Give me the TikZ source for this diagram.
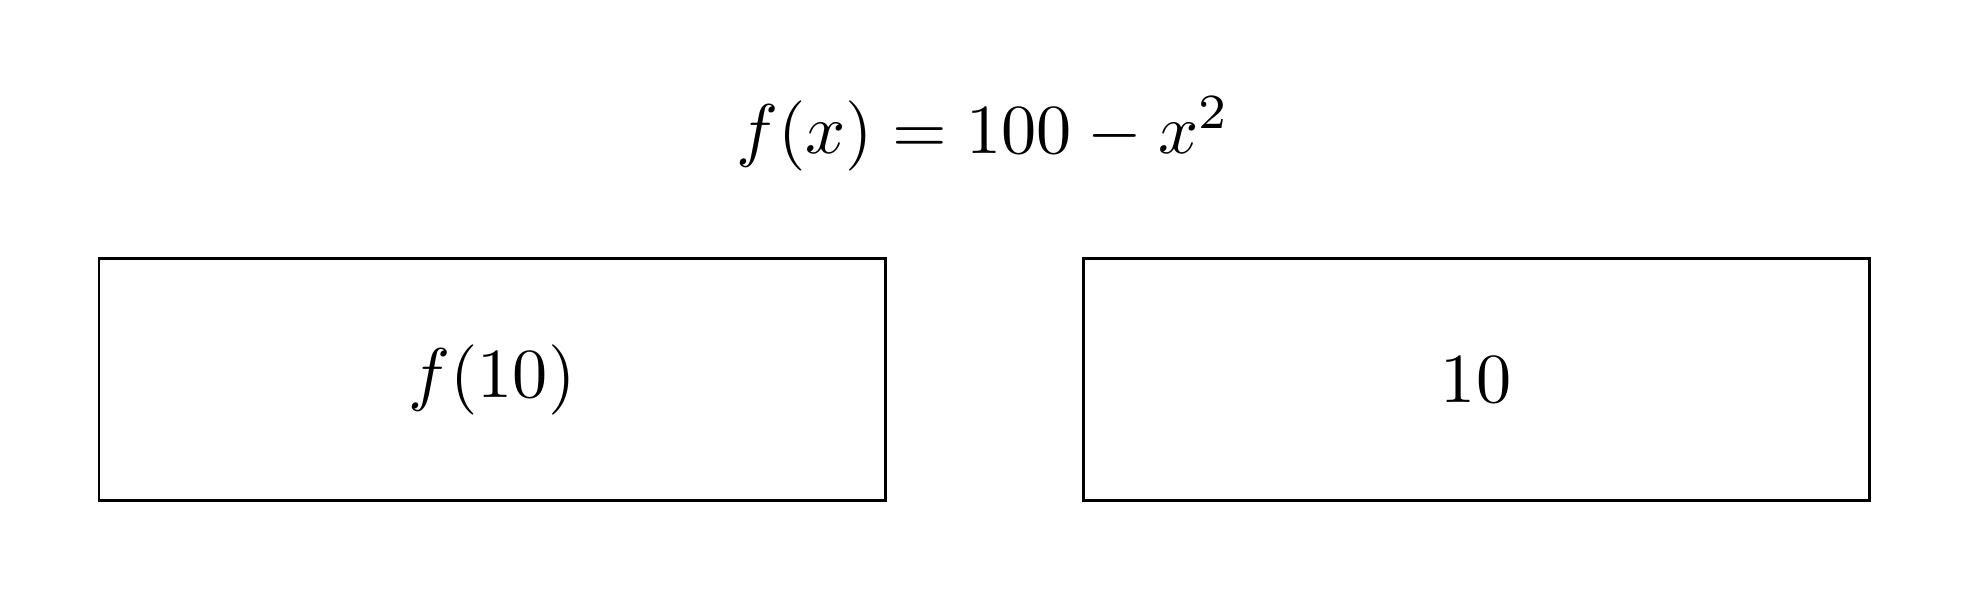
\documentclass[tikz,border=0pt]{standalone}
\newcommand{\bigtxt}[1]{\scalebox{2.0}{#1}}
\begin{document}
\begin{tikzpicture}[
  box/.style={draw=black, line width=0.85pt, minimum width=7.86cm, minimum height=2.42cm, inner sep=0pt},
  title/.style={inner sep=0pt}
]
\useasboundingbox (0,0) rectangle (19.69,6.01);
\node[title, anchor=base] (eq) at (9.83,4.47) {\bigtxt{$f(x) = 100 - x^2$}};
\node[box] (left) at (4.92,2.21) {\bigtxt{$f(10)$}};
\node[box] (right) at (14.76,2.21) {\bigtxt{$10$}};
\end{tikzpicture}
\end{document}
